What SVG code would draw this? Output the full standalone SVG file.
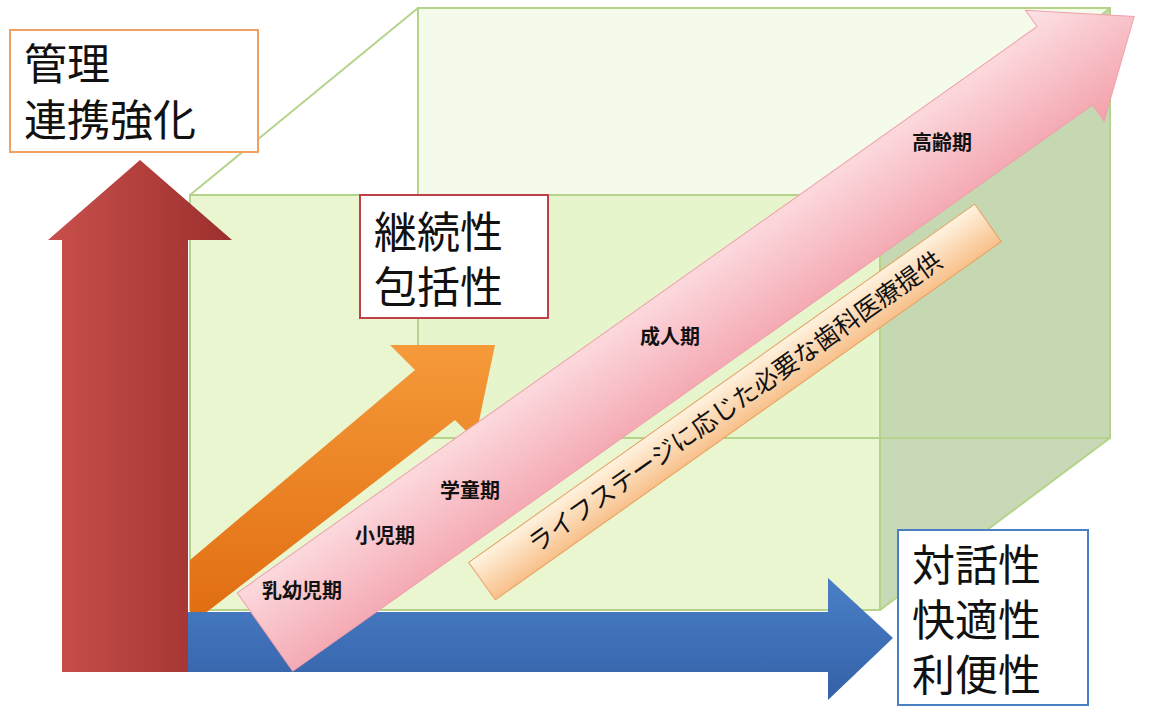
<svg xmlns="http://www.w3.org/2000/svg" width="1149" height="718" viewBox="0 0 1149 718">
<style>
.e{stroke:#b5d38a;stroke-width:2;fill:none}
.bx{fill:#fff;stroke-width:2}
.big{font-family:"Noto Sans CJK JP","Noto Sans CJK SC",sans-serif;font-size:43px;fill:#111}
.st{font-family:"Noto Sans CJK JP","Noto Sans CJK SC",sans-serif;font-size:20px;font-weight:bold;fill:#111}
</style>
<defs>
<linearGradient id="red" x1="0" x2="1"><stop offset="0" stop-color="#c9504c"/><stop offset="1" stop-color="#9c2f2d"/></linearGradient>
<linearGradient id="blue" x1="0" y1="0" x2="0" y2="1"><stop offset="0" stop-color="#4a7fc6"/><stop offset="1" stop-color="#3461a8"/></linearGradient>
<linearGradient id="org" x1="0" y1="0" x2="0" y2="1"><stop offset="0" stop-color="#f59a3a"/><stop offset="1" stop-color="#e06c10"/></linearGradient>
<linearGradient id="pink" x1="0" y1="0" x2="0" y2="1"><stop offset="0" stop-color="#fde3e6"/><stop offset="1" stop-color="#f3a0ab"/></linearGradient>
<linearGradient id="lab" x1="0" y1="0" x2="0" y2="1"><stop offset="0" stop-color="#fff3e0"/><stop offset="1" stop-color="#f8c08a"/></linearGradient>
</defs>
<rect width="1149" height="718" fill="#fff"/>
<g id="box">
<polygon points="418,8 1110,8 1110,438 418,438" fill="#eef8dc" opacity="0.6"/>
<polygon points="190,195 880,195 880,610 190,610" fill="#e4f4c4" opacity="0.8"/>
<polygon points="880,195 1110,8 1110,438 880,610" fill="#b9cfa4" opacity="0.8"/>
<polyline class="e" points="418,438 418,8 1110,8 1110,438 418,438"/>
<rect class="e" x="190" y="195" width="690" height="415"/>
<line class="e" x1="190" y1="195" x2="418" y2="8"/>
<line class="e" x1="880" y1="195" x2="1110" y2="8"/>
<line class="e" x1="190" y1="610" x2="418" y2="438"/>
<line class="e" x1="880" y1="610" x2="1110" y2="438"/>
</g>
<g id="connectors">
<polygon id="orange-arrow" points="190,560 415,370 390,345 495,345 475,440 455,420 190,625" fill="url(#org)"/>
<polygon id="blue-arrow" points="188,612 828,612 828,578 893,638 828,700 828,672 188,672" fill="url(#blue)"/>
<polygon id="red-arrow" points="62,672 62,240 48,240 140,160 232,240 188,240 188,672" fill="url(#red)"/>
<g id="pink-arrow" transform="translate(265,632) rotate(-35.3)">
<polygon points="0,-48 980,-48 980,-68 1065,0 980,68 980,48 0,48" fill="url(#pink)" stroke="#f0a0aa"/>
</g>
</g>
<g id="stage-label" transform="translate(735,402) rotate(-35.3)">
<rect x="-310" y="-23" width="620" height="46" fill="url(#lab)" stroke="#e8a060"/>
<text class="st" x="0" y="9" text-anchor="middle" style="font-weight:normal;font-size:25px">ライフステージに応じた必要な歯科医療提供</text>
</g>
<g id="stages">
<text class="st" x="912" y="150">高齢期</text>
<text class="st" x="640" y="344">成人期</text>
<text class="st" x="440" y="498">学童期</text>
<text class="st" x="355" y="543">小児期</text>
<text class="st" x="262" y="598">乳幼児期</text>
</g>
<g id="n1"><rect class="bx" x="10" y="30" width="248" height="122" stroke="#f0a060"/>
<text class="big" x="24" y="80">管理</text><text class="big" x="24" y="136">連携強化</text></g>
<g id="n2"><rect class="bx" x="360" y="195" width="188" height="123" stroke="#c0404a"/>
<text class="big" x="374" y="248">継続性</text><text class="big" x="374" y="303">包括性</text></g>
<g id="n3"><rect class="bx" x="898" y="530" width="190" height="175" stroke="#4a7fc6"/>
<text class="big" x="912" y="581">対話性</text><text class="big" x="912" y="636">快適性</text><text class="big" x="912" y="691">利便性</text></g>
</svg>
